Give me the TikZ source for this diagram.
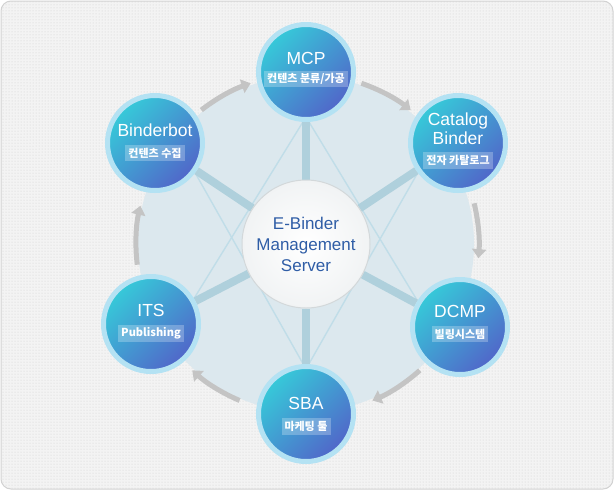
\documentclass[tikz,border=0pt]{standalone}
\usepackage{fontspec}
\setmainfont{Liberation Sans}
\newfontfamily\kr{Noto Sans CJK KR}
\usetikzlibrary{arrows.meta,patterns,calc}
\pgfdeclarelayer{bg}
\pgfdeclarelayer{mid}
\pgfsetlayers{bg,mid,main}
\definecolor{bgc}{HTML}{F3F3F3}
\definecolor{dotc}{HTML}{CFCFCF}
\definecolor{framec}{HTML}{D2D2D2}
\definecolor{discc}{HTML}{DCE8EE}
\definecolor{spokec}{HTML}{AFD0DC}
\definecolor{thinc}{HTML}{C0DDE8}
\definecolor{arcc}{HTML}{C4C4C4}
\definecolor{glowc}{HTML}{B4E2F3}
\definecolor{cyanc}{HTML}{36CAD9}
\definecolor{bluec}{HTML}{5166C9}
\definecolor{centxt}{HTML}{2F5DA6}
\definecolor{cenedge}{HTML}{D3D8DA}
\definecolor{cenout}{HTML}{F1F3F4}
\tikzset{
  sat/.style={circle, minimum size=95pt, inner sep=0pt, top color=cyanc, bottom color=bluec, shading angle=45, draw=glowc, line width=5pt},
  ttl/.style={text=white, font=\fontsize{17.5}{20}\selectfont, inner sep=0pt, text height=12.5pt, text depth=0pt},
  subbox/.style={fill=white, fill opacity=0.25, text opacity=1, text=white, inner xsep=3pt, inner ysep=0pt, minimum height=16.5pt, font=\kr\bfseries\fontsize{11}{12}\selectfont},
  spoke/.style={draw=spokec, line width=8pt},
  thinline/.style={draw=thinc, line width=1.4pt},
  cyc/.style={draw=arcc, line width=5pt, -{Triangle[width=14pt,length=9pt]}},
  cenbox/.style={circle, minimum size=128pt, inner sep=0pt, inner color=white, outer color=cenout, draw=cenedge, line width=1pt, align=center, text=centxt, font=\fontsize{17}{21}\selectfont}
}
\begin{document}
\begin{tikzpicture}[x=1pt,y=-1pt]
\useasboundingbox (0,0) rectangle (615,491);
% nodes
\node[cenbox] (cen) at (306,244) {E-Binder\\Management\\Server};
\node[sat] (mcp) at (306,72) {};
\node[sat] (cat) at (458,143) {};
\node[sat] (dcmp) at (460,327) {};
\node[sat] (sba) at (306,414) {};
\node[sat] (its) at (151,324) {};
\node[sat] (bot) at (155,143) {};
% labels
\node[ttl] (mcpt) at (306,58.5) {MCP};
\node[subbox] (mcps) at (306,79) {컨텐츠 분류/가공};
\node[ttl] (catt1) at (458,119.5) {Catalog};
\node[ttl] (catt2) at (458,138.5) {Binder};
\node[subbox] (cats) at (458,160.5) {전자 카탈로그};
\node[ttl] (dcmpt) at (460,311) {DCMP};
\node[subbox] (dcmps) at (460,334) {빌링시스템};
\node[ttl] (sbat) at (306,403) {SBA};
\node[subbox] (sbas) at (306,426.5) {마케팅 툴};
\node[ttl] (itst) at (151,310) {ITS};
\node[subbox] (itss) at (151,333.5) {Publishing};
\node[ttl] (bott) at (155,130.5) {Binderbot};
\node[subbox] (bots) at (155,153) {컨텐츠 수집};
% background
\begin{pgfonlayer}{bg}
\fill[bgc, rounded corners=10pt] (1,1) rectangle (613,489);
\fill[pattern=dots, pattern color=dotc, rounded corners=10pt] (1,1) rectangle (613,489);
\draw[framec, line width=1pt, rounded corners=10pt] (1,1) rectangle (613,489);
\fill[discc] (cen.center) circle[radius=168pt];
\end{pgfonlayer}
\begin{pgfonlayer}{mid}
% thin cross lines
\draw[thinline] ($(mcp.center)!45pt!(cen.center)$) -- ($(its.center)!45pt!(cen.center)$);
\draw[thinline] ($(mcp.center)!45pt!(cen.center)$) -- ($(dcmp.center)!45pt!(cen.center)$);
\draw[thinline] ($(sba.center)!45pt!(cen.center)$) -- ($(bot.center)!45pt!(cen.center)$);
\draw[thinline] ($(sba.center)!45pt!(cen.center)$) -- ($(cat.center)!45pt!(cen.center)$);
% spokes
\foreach \n in {mcp,cat,dcmp,sba,its,bot} \draw[spoke] (cen) -- (\n);
% cycle arrows
\draw[cyc] ($(cen.center)+(128:170pt)$) arc[start angle=128, end angle=109, radius=170pt];
\draw[cyc] ($(cen.center)+(71:170pt)$) arc[start angle=71, end angle=52, radius=170pt];
\draw[cyc] ($(cen.center)+(13.6:173pt)$) arc[start angle=13.6, end angle=-4.7, radius=173pt];
\draw[cyc] ($(cen.center)+(-48:170pt)$) arc[start angle=-48, end angle=-67, radius=170pt];
\draw[cyc] ($(cen.center)+(247:170pt)$) arc[start angle=247, end angle=228, radius=170pt];
\draw[cyc] ($(cen.center)+(187:170pt)$) arc[start angle=187, end angle=167, radius=170pt];
\end{pgfonlayer}
\end{tikzpicture}
\end{document}
